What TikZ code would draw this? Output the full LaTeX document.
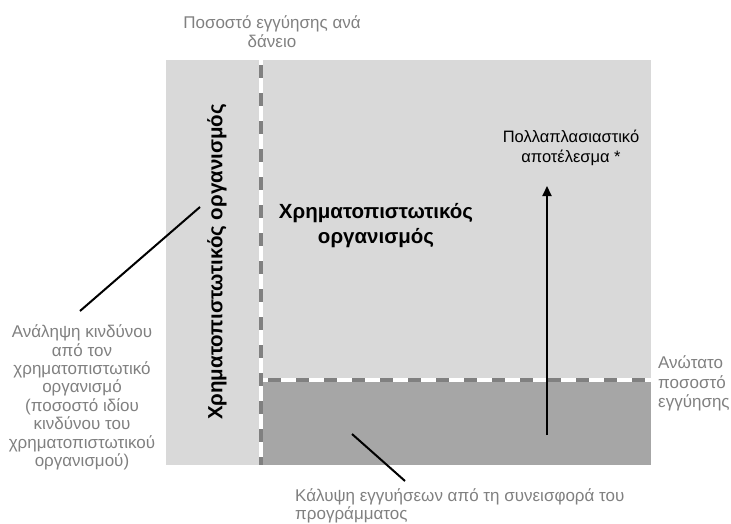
\documentclass[tikz,border=0pt]{standalone}
\usepackage{fontspec}
\setmainfont{Liberation Sans}
\usetikzlibrary{arrows.meta}
\definecolor{panelcolor}{HTML}{D9D9D9}
\definecolor{basecolor}{HTML}{A6A6A6}
\definecolor{dashcolor}{HTML}{808080}
\definecolor{notecolor}{HTML}{808080}
\tikzset{
  >={Triangle[width=9pt,length=10pt]},
  panel/.style={fill=panelcolor,draw=none},
  basepart/.style={fill=basecolor,draw=none},
  gapline/.style={draw=white,line width=4pt},
  dashline/.style={draw=dashcolor,line width=3.5pt,dash pattern=on 13pt off 15pt,dash phase=23pt},
  pointer/.style={draw=black,line width=2pt},
  pointerp/.style={draw=black,line width=2pt,->},
  note/.style={text=notecolor,font=\fontsize{17}{19}\selectfont,align=center,inner sep=0pt},
  remark/.style={text=black,font=\fontsize{16.5}{20}\selectfont,align=center,inner sep=0pt},
  title/.style={text=black,font=\fontsize{20.5}{25}\selectfont\bfseries,align=center,inner sep=0pt}
}

\begin{document}
\begin{tikzpicture}[x=1pt,y=-1pt]
  \useasboundingbox (0,0) rectangle (731,524);
  \coordinate (PTL) at (166,60);
  \coordinate (PBR) at (651,465);
  \coordinate (VTOP) at (261,60);
  \coordinate (VBOT) at (261,465);
  \coordinate (HLEFT) at (263,380);
  \coordinate (HRIGHT) at (651,380);
  % areas
  \path (PTL) rectangle (PBR) [panel];
  \path (263,381) rectangle (PBR) [basepart];
  \draw (VTOP) -- (VBOT) [gapline];
  \draw (VTOP) -- (VBOT) [dashline];
  \draw (HLEFT) -- (HRIGHT) [gapline];
  \draw (HLEFT) -- (HRIGHT) [dashline];
  % texts
  \node[note] (share) at (272,31.5) {Ποσοστό εγγύησης ανά\\δάνειο};
  \node[note,anchor=west,align=left,font=\fontsize{17}{19.5}\selectfont] (ceiling) at (658,383.5) {Ανώτατο\\ποσοστό\\εγγύησης};
  \node[note,font=\fontsize{17}{18.4}\selectfont] (risk) at (82,397.5) {Ανάληψη κινδύνου\\από τον\\χρηματοπιστωτικό\\οργανισμό\\(ποσοστό ιδίου\\κινδύνου του\\χρηματοπιστωτικού\\οργανισμού)};
  \node[note,align=left,anchor=west,font=\fontsize{17}{18.5}\selectfont] (cover) at (295,506) {Κάλυψη εγγυήσεων από τη συνεισφορά του\\προγράμματος};
  \node[remark] (effect) at (571,148) {Πολλαπλασιαστικό\\αποτέλεσμα *};
  \node[title] (bank) at (376,225.5) {Χρηματοπιστωτικός\\οργανισμός};
  \node[title,rotate=90] (bankside) at (217,262) {Χρηματοπιστωτικός οργανισμός};
  % connectors
  \coordinate (RISKA) at (80,311);
  \coordinate (RISKB) at (200,207);
  \coordinate (COVERA) at (405,481);
  \coordinate (COVERB) at (352,434);
  \coordinate (EFFA) at (547,435);
  \coordinate (EFFB) at (547,186);
  \draw (RISKA) -- (RISKB) [pointer];
  \draw (COVERA) -- (COVERB) [pointer];
  \draw (EFFA) -- (EFFB) [pointerp];
\end{tikzpicture}
\end{document}
